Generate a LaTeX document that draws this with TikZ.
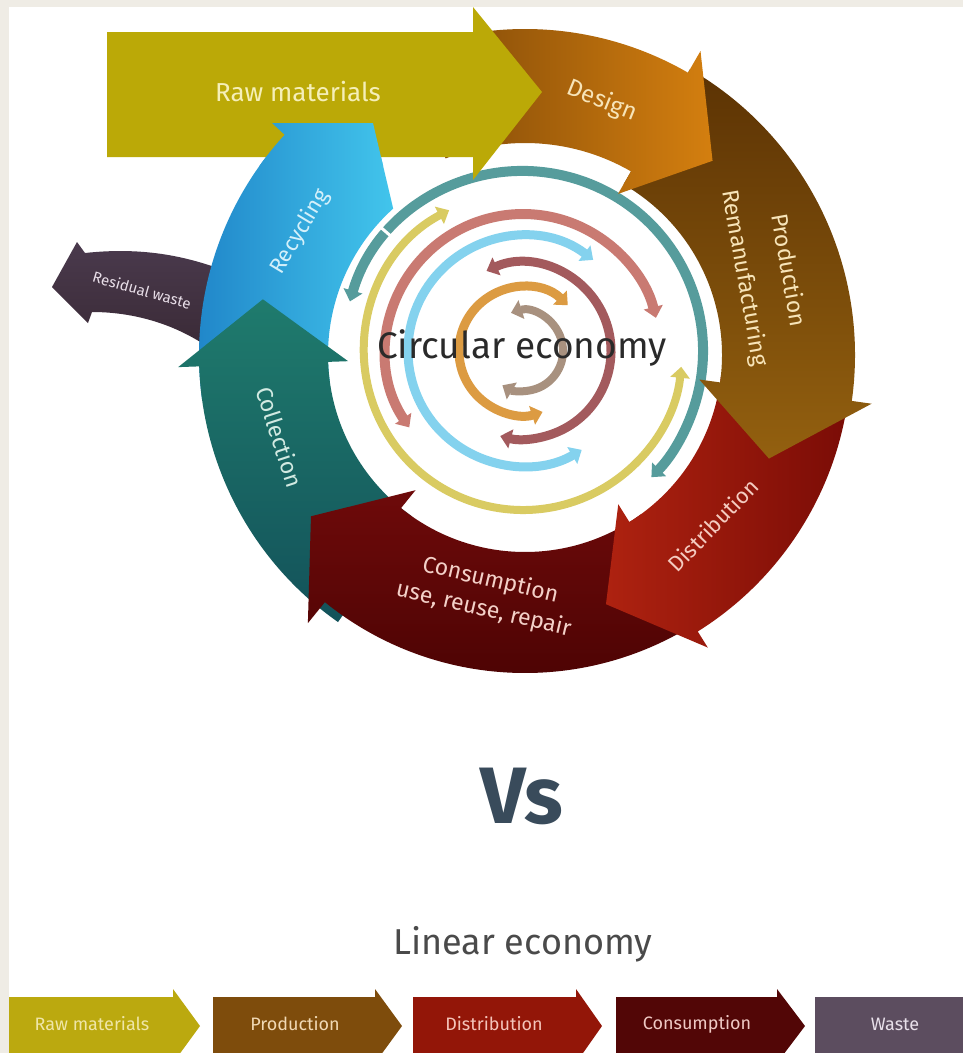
\documentclass[tikz,border=0pt]{standalone}
\usepackage{fontspec}
\setmainfont{Fira Sans}
\usetikzlibrary{arrows.meta,calc}
\definecolor{beige}{HTML}{EFECE5}
\definecolor{rawc}{HTML}{BBA907}
\definecolor{rawTxt}{HTML}{F5EFB8}
\definecolor{desL}{HTML}{7A4508}
\definecolor{desR}{HTML}{D47F0F}
\definecolor{desTxt}{HTML}{F7E4B8}
\definecolor{proT}{HTML}{5C3304}
\definecolor{proB}{HTML}{93600F}
\definecolor{disL}{HTML}{AE2210}
\definecolor{disR}{HTML}{7A0C06}
\definecolor{disTxt}{HTML}{F4CBC0}
\definecolor{conT}{HTML}{6E0A0A}
\definecolor{conB}{HTML}{4A0303}
\definecolor{conTxt}{HTML}{F3D0C8}
\definecolor{colT}{HTML}{1F7B6D}
\definecolor{colB}{HTML}{13525A}
\definecolor{colTxt}{HTML}{D2EAE2}
\definecolor{recL}{HTML}{1F84C8}
\definecolor{recR}{HTML}{42C5EC}
\definecolor{recTxt}{HTML}{D4F0FA}
\definecolor{resC}{HTML}{4A3A4D}
\definecolor{resD}{HTML}{3A2A36}
\definecolor{resTxt}{HTML}{E8DEE8}
\definecolor{ringTeal}{HTML}{569C9C}
\definecolor{ringYel}{HTML}{D9CB62}
\definecolor{ringSal}{HTML}{C97A72}
\definecolor{ringBlu}{HTML}{84D2EE}
\definecolor{ringRos}{HTML}{A35A5D}
\definecolor{ringOra}{HTML}{DC9B42}
\definecolor{ringGry}{HTML}{A8917F}
\definecolor{ceTxt}{HTML}{2A2A2A}
\definecolor{vsC}{HTML}{394B5B}
\definecolor{linTxt}{HTML}{4A4A4A}
\definecolor{linRaw}{HTML}{BBA90F}
\definecolor{linPro}{HTML}{7E4C0C}
\definecolor{linDis}{HTML}{931608}
\definecolor{linCon}{HTML}{520606}
\definecolor{linWas}{HTML}{5C4D5F}
\definecolor{lRawT}{HTML}{EFE6A8}
\definecolor{lProT}{HTML}{F1D9B5}
\definecolor{lDisT}{HTML}{F4C4BA}
\definecolor{lConT}{HTML}{EFC9C4}
\definecolor{lWasT}{HTML}{E8E0EA}
\begin{document}
\begin{tikzpicture}[x=1pt,y=1pt,
  lbl/.style={inner sep=0pt, align=center},
  ring/.style={line width=#1, line cap=butt, arrows={Triangle[width=19pt,length=11pt]-Triangle[width=19pt,length=11pt]}}]
\useasboundingbox (0,0) rectangle (963,-1053);
\clip (0,0) rectangle (963,-1053);
\fill[beige] (0,0) rectangle (963,-1053);
\fill[white] (9,-7) rectangle (963,-1053);
\coordinate (C) at (525,-355);
\coordinate (R) at (523,-351);
% inner rings
\draw[ring=10pt, ringTeal] ($(R)+(164:180)$) arc[start angle=164,end angle=-44.5,radius=180];
\draw[white, line width=3pt] ($(R)+(139:172)$) -- ($(R)+(139:190)$);
\draw[ring=8pt, ringYel] ($(R)+(117.7:159)$) arc[start angle=117.7,end angle=354.3,radius=159];
\draw[ring=10pt, ringSal] ($(R)+(213.9:137)$) arc[start angle=213.9,end angle=14,radius=137];
\draw[ring=9pt, ringBlu] ($(R)+(52.4:115)$) arc[start angle=52.4,end angle=300.7,radius=115];
\draw[ring=9pt, ringRos] ($(R)+(114.5:88)$) arc[start angle=114.5,end angle=-105,radius=88];
\draw[ring=9pt, ringOra] ($(R)+(45.6:64)$) arc[start angle=45.6,end angle=287.8,radius=64];
\draw[ring=8pt, ringGry] ($(R)+(107.5:40)$) arc[start angle=107.5,end angle=-121,radius=40];
% residual waste
\shade[top color=resC, bottom color=resD] (52,-287) -- (77,-242) -- (85,-253) .. controls (140,-247) and (185,-255) .. (228,-272) -- (228,-348) -- (205,-345) .. controls (170,-322) and (130,-312) .. (92,-312) -- (88,-323) -- cycle;
% recycling
\shade[left color=recL, right color=recR] ($(C)+(188:326)$) arc[start angle=188,end angle=137.5,radius=326] -- (272,-123) -- (373,-123) -- ($(C)+(132:197)$) arc[start angle=132,end angle=188,radius=197] -- cycle;
% collection
\shade[top color=colT, bottom color=colB] ($(C)+(235:326)$) arc[start angle=235,end angle=182,radius=326] -- ($(C)+(182:347)$) -- ($(C)+(168:268)$) -- ($(C)+(182:177)$) -- ($(C)+(182:197)$) arc[start angle=182,end angle=235,radius=197] -- cycle;
% consumption
\shade[top color=conT, bottom color=conB] ($(C)+(-54:318)$) arc[start angle=-54,end angle=-129,radius=318] -- ($(C)+(231:345)$) -- ($(C)+(217:268)$) -- ($(C)+(231:174)$) -- ($(C)+(231:197)$) arc[start angle=231,end angle=306,radius=197] -- cycle;
% distribution
\shade[left color=disL, right color=disR] ($(C)+(-6:326)$) arc[start angle=-6,end angle=-58,radius=326] -- ($(C)+(-58:345)$) -- ($(C)+(-72:262)$) -- ($(C)+(-58:176)$) -- ($(C)+(-58:197)$) arc[start angle=-58,end angle=-6,radius=197] -- cycle;
% production
\shade[top color=proT, bottom color=proB] ($(C)+(60:330)$) arc[start angle=60,end angle=-8,radius=330] -- ($(C)+(-8:350)$) -- ($(C)+(-23:265)$) -- ($(C)+(-8:176)$) -- ($(C)+(-8:197)$) arc[start angle=-8,end angle=60,radius=197] -- cycle;
% design
\shade[left color=desL, right color=desR] ($(C)+(112:326)$) arc[start angle=112,end angle=60,radius=326] -- ($(C)+(60:351)$) -- ($(C)+(46:270)$) -- ($(C)+(60:186)$) -- ($(C)+(60:212)$) arc[start angle=60,end angle=112,radius=212] -- cycle;
% raw materials
\fill[rawc] (107,-32) -- (473,-32) -- (473,-7) -- (542,-92) -- (473,-180) -- (473,-157) -- (107,-157) -- cycle;
% recycling tip over raw materials
\begin{scope}
\clip (150,-100) rectangle (450,-165);
\shade[left color=recL, right color=recR] ($(C)+(188:326)$) arc[start angle=188,end angle=137.5,radius=326] -- (272,-123) -- (373,-123) -- ($(C)+(132:197)$) arc[start angle=132,end angle=188,radius=197] -- cycle;
\end{scope}
% labels of the cycle
\node[lbl, text=rawTxt, font=\fontsize{26}{30}\selectfont] (tRaw) at (298,-92) {Raw materials};
\node[lbl, text=desTxt, font=\fontsize{24}{28}\selectfont, rotate=-22] (tDes) at (602,-101) {Design};
\node[lbl, text=desTxt, font=\fontsize{23}{27}\selectfont, rotate=-80] (tPro) at (766,-274) {Production\\[17pt]Remanufacturing};
\node[lbl, text=disTxt, font=\fontsize{22}{26}\selectfont, rotate=46] (tDis) at (713,-525) {Distribution};
\node[lbl, text=conTxt, font=\fontsize{23}{27}\selectfont, rotate=-13] (tCon) at (487,-595) {Consumption\\[3pt]use, reuse, repair};
\node[lbl, text=colTxt, font=\fontsize{23}{27}\selectfont, rotate=-72] (tCol) at (280,-437) {Collection};
\node[lbl, text=recTxt, font=\fontsize{22}{26}\selectfont, rotate=59] (tRec) at (300,-232) {Recycling};
\node[lbl, text=resTxt, font=\fontsize{15}{18}\selectfont, rotate=-16] (tRes) at (142,-290) {Residual waste};
\node[lbl, text=ceTxt, font=\fontsize{37}{42}\selectfont] (tCE) at (522,-348) {Circular economy};
% Vs and linear economy
\node[lbl, text=vsC, font=\bfseries\fontsize{80}{84}\selectfont] (tVs) at (522,-796) {Vs};
\node[lbl, text=linTxt, font=\fontsize{36}{40}\selectfont] (tLE) at (523,-944) {Linear economy};
% linear chain
\fill[linRaw] (9,-997) -- (173,-997) -- (173,-989) -- (200,-1026) -- (173,-1063) -- (173,-1060) -- (9,-1060) -- cycle;
\fill[linPro] (213,-997) -- (375,-997) -- (375,-989) -- (402,-1026) -- (375,-1063) -- (375,-1060) -- (213,-1060) -- cycle;
\fill[linDis] (413,-997) -- (576,-997) -- (576,-989) -- (602,-1026) -- (576,-1063) -- (576,-1060) -- (413,-1060) -- cycle;
\fill[linCon] (616,-997) -- (777,-997) -- (777,-989) -- (805,-1026) -- (777,-1063) -- (777,-1060) -- (616,-1060) -- cycle;
\fill[linWas] (815,-997) rectangle (963,-1060);
\node[lbl, text=lRawT, font=\fontsize{18}{20}\selectfont] (lRaw) at (92,-1024) {Raw materials};
\node[lbl, text=lProT, font=\fontsize{18}{20}\selectfont] (lPro) at (295,-1024) {Production};
\node[lbl, text=lDisT, font=\fontsize{18}{20}\selectfont] (lDis) at (494,-1024) {Distribution};
\node[lbl, text=lConT, font=\fontsize{18}{20}\selectfont] (lCon) at (697,-1024) {Consumption};
\node[lbl, text=lWasT, font=\fontsize{18}{20}\selectfont] (lWas) at (895,-1024) {Waste};
\end{tikzpicture}
\end{document}
